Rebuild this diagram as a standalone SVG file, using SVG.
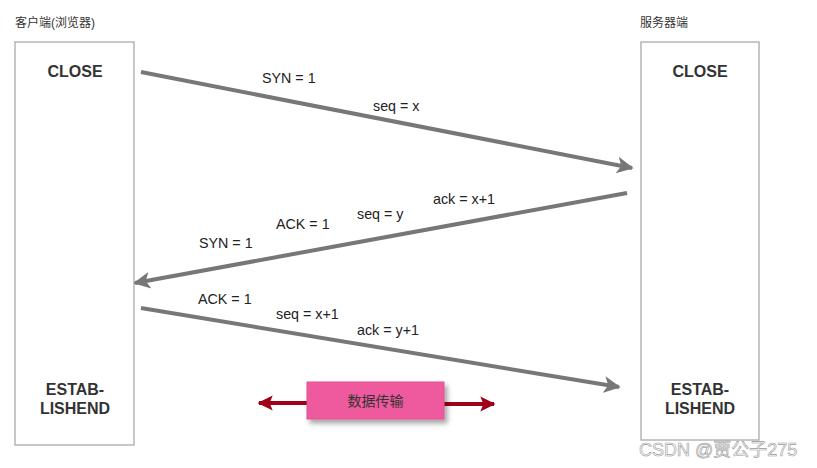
<svg xmlns="http://www.w3.org/2000/svg" width="817" height="468" viewBox="0 0 817 468">
<style>
.box{fill:#fff;stroke:#aaa;stroke-width:1.3}
.t{font-family:"Liberation Sans",Arial,sans-serif;font-size:14.3px;fill:#222}
.b{font-family:"Liberation Sans",Arial,sans-serif;font-size:16px;font-weight:bold;fill:#333;text-anchor:middle}
.cjk{font-family:"Liberation Sans","Noto Sans CJK SC",sans-serif;font-size:12px;fill:#333}
.msg{stroke:#777;stroke-width:4;fill:none}
.red{stroke:#a00018;stroke-width:4;fill:none}
</style>
<defs>
<marker id="ah" viewBox="0 0 10 10" refX="9" refY="5" markerWidth="4.2" markerHeight="5" orient="auto" markerUnits="strokeWidth">
<path d="M0,0 L10,5 L0,10 L2.5,5 Z" fill="#777"/>
</marker>
<marker id="rh" viewBox="0 0 10 10" refX="9" refY="5" markerWidth="3.8" markerHeight="4.5" orient="auto" markerUnits="strokeWidth">
<path d="M0,0 L10,5 L0,10 L2,5 Z" fill="#a00018"/>
</marker>
<filter id="sh" x="-10%" y="-20%" width="130%" height="160%">
<feDropShadow dx="3" dy="4" stdDeviation="2.5" flood-color="#000" flood-opacity="0.35"/>
</filter>
</defs>
<rect width="817" height="468" fill="#fff"/>
<g id="client">
<text class="cjk" x="15" y="27">客户端(浏览器)</text>
<rect class="box" x="15" y="42" width="119" height="403"/>
<text class="b" x="75" y="77">CLOSE</text>
<text class="b" x="75" y="395">ESTAB-</text>
<text class="b" x="75" y="414">LISHEND</text>
</g>
<g id="server">
<text class="cjk" x="640" y="27">服务器端</text>
<rect class="box" x="641" y="42" width="118" height="398"/>
<text class="b" x="700" y="77">CLOSE</text>
<text class="b" x="700" y="395">ESTAB-</text>
<text class="b" x="700" y="414">LISHEND</text>
</g>
<g id="connectors">
<line class="msg" x1="141" y1="72" x2="632" y2="168" marker-end="url(#ah)"/>
<line class="msg" x1="627" y1="193" x2="135" y2="283" marker-end="url(#ah)"/>
<line class="msg" x1="141" y1="308" x2="619" y2="387" marker-end="url(#ah)"/>
<line class="red" x1="307" y1="403" x2="259" y2="403" marker-end="url(#rh)"/>
<line class="red" x1="444" y1="404" x2="494" y2="404" marker-end="url(#rh)"/>
</g>
<g id="labels">
<text class="t" x="262" y="83">SYN = 1</text>
<text class="t" x="373" y="111">seq = x</text>
<text class="t" x="433" y="204">ack = x+1</text>
<text class="t" x="357" y="219">seq = y</text>
<text class="t" x="276" y="229">ACK = 1</text>
<text class="t" x="199" y="248">SYN = 1</text>
<text class="t" x="198" y="304">ACK = 1</text>
<text class="t" x="276" y="319">seq = x+1</text>
<text class="t" x="357" y="335">ack = y+1</text>
</g>
<g id="transfer">
<rect x="307" y="382" width="137" height="37" fill="#ee5a9d" stroke="#e05090" stroke-width="1" filter="url(#sh)"/>
<text x="375.5" y="406" text-anchor="middle" style="font-family:'Noto Sans CJK SC',sans-serif;font-size:14px;fill:#333">数据传输</text>
</g>
<text x="639" y="456" style="font-family:'Liberation Sans','Noto Sans CJK SC',sans-serif;font-size:18px;font-weight:normal;fill:#fff;fill-opacity:0.6;stroke:#999;stroke-width:0.6">CSDN @贾公子275</text>
</svg>
